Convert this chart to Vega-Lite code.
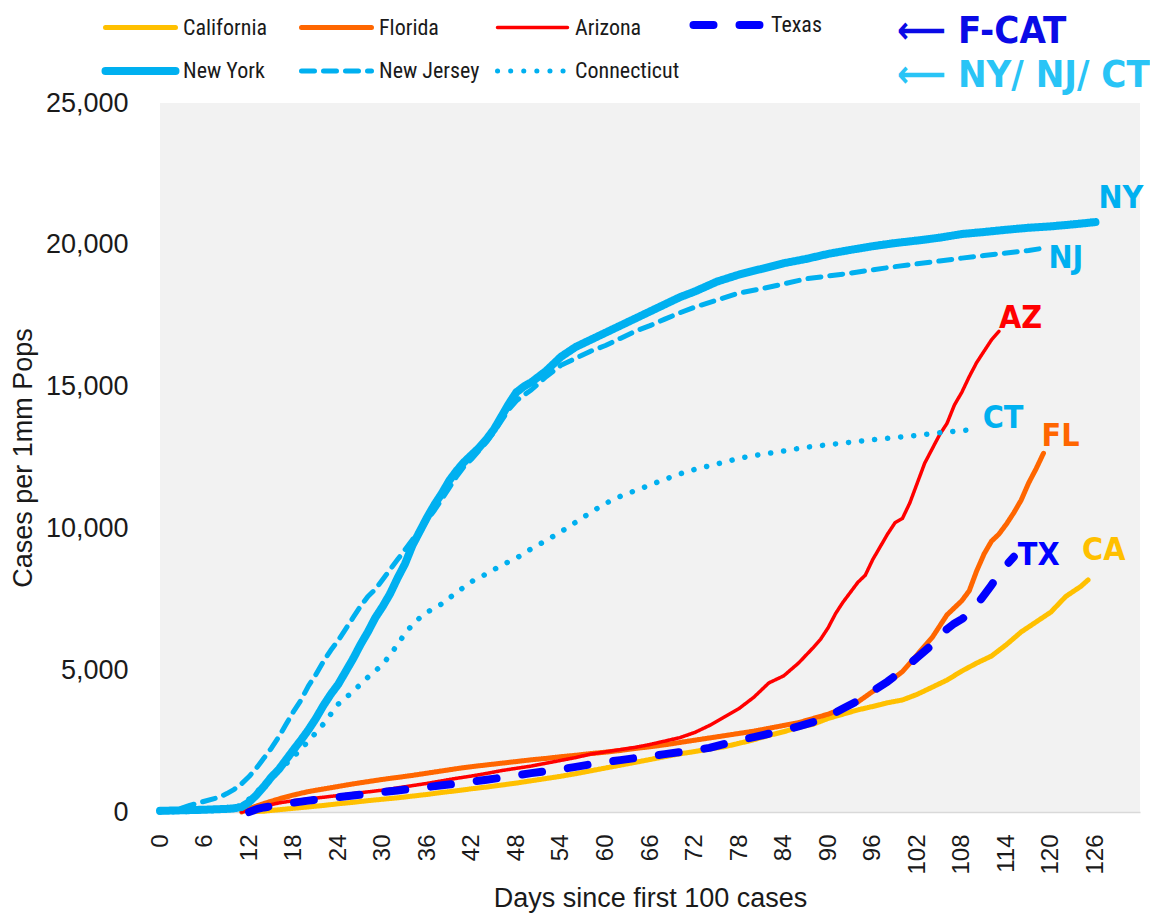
{
  "$schema": "https://vega.github.io/schema/vega-lite/v6.json",
  "autosize": "none",
  "width": 980,
  "height": 709,
  "padding": {"left": 160, "top": 103, "right": 10, "bottom": 103},
  "background": "white",
  "config": {
    "view": {"fill": "#F2F2F2", "stroke": null},
    "font": "Liberation Sans",
    "axis": {"labelColor": "#1a1a1a", "titleColor": "#1a1a1a", "titleFontWeight": "normal", "grid": false, "ticks": false}
  },
  "title": {
    "text": "⟵ F-CAT",
    "subtitle": "⟵ NY/ NJ/ CT",
    "orient": "top",
    "anchor": "start",
    "frame": "group",
    "dx": 737,
    "dy": 84,
    "offset": 0,
    "font": "DejaVu Sans Condensed, Liberation Sans",
    "fontSize": 38,
    "fontWeight": "bold",
    "color": "#0A0AE6",
    "subtitleFont": "DejaVu Sans Condensed, Liberation Sans",
    "subtitleFontSize": 38,
    "subtitleFontWeight": "bold",
    "subtitleColor": "#29C4F6",
    "subtitlePadding": 6
  },
  "data": {
    "values": [
      {"state": "California", "day": 12, "value": 0}, {"state": "California", "day": 14, "value": 30}, {"state": "California", "day": 16, "value": 80}, {"state": "California", "day": 18, "value": 130}, {"state": "California", "day": 20, "value": 180}, {"state": "California", "day": 22, "value": 230}, {"state": "California", "day": 24, "value": 290}, {"state": "California", "day": 26, "value": 340}, {"state": "California", "day": 28, "value": 400}, {"state": "California", "day": 30, "value": 450}, {"state": "California", "day": 32, "value": 500}, {"state": "California", "day": 34, "value": 560}, {"state": "California", "day": 36, "value": 620}, {"state": "California", "day": 38, "value": 690}, {"state": "California", "day": 40, "value": 750}, {"state": "California", "day": 42, "value": 820}, {"state": "California", "day": 44, "value": 880}, {"state": "California", "day": 46, "value": 950}, {"state": "California", "day": 48, "value": 1020}, {"state": "California", "day": 50, "value": 1100}, {"state": "California", "day": 52, "value": 1180}, {"state": "California", "day": 54, "value": 1260}, {"state": "California", "day": 56, "value": 1350}, {"state": "California", "day": 58, "value": 1450}, {"state": "California", "day": 60, "value": 1550}, {"state": "California", "day": 62, "value": 1650}, {"state": "California", "day": 64, "value": 1750}, {"state": "California", "day": 66, "value": 1850}, {"state": "California", "day": 68, "value": 1950}, {"state": "California", "day": 70, "value": 2050}, {"state": "California", "day": 72, "value": 2130}, {"state": "California", "day": 74, "value": 2220}, {"state": "California", "day": 76, "value": 2300}, {"state": "California", "day": 78, "value": 2420}, {"state": "California", "day": 80, "value": 2550}, {"state": "California", "day": 82, "value": 2700}, {"state": "California", "day": 84, "value": 2830}, {"state": "California", "day": 86, "value": 2980}, {"state": "California", "day": 88, "value": 3100}, {"state": "California", "day": 90, "value": 3300}, {"state": "California", "day": 92, "value": 3450}, {"state": "California", "day": 94, "value": 3600}, {"state": "California", "day": 96, "value": 3720}, {"state": "California", "day": 98, "value": 3850}, {"state": "California", "day": 100, "value": 3950}, {"state": "California", "day": 102, "value": 4150}, {"state": "California", "day": 104, "value": 4400}, {"state": "California", "day": 106, "value": 4650}, {"state": "California", "day": 108, "value": 4970}, {"state": "California", "day": 110, "value": 5250}, {"state": "California", "day": 112, "value": 5500}, {"state": "California", "day": 114, "value": 5900}, {"state": "California", "day": 116, "value": 6350}, {"state": "California", "day": 118, "value": 6700}, {"state": "California", "day": 120, "value": 7050}, {"state": "California", "day": 122, "value": 7600}, {"state": "California", "day": 124, "value": 7950}, {"state": "California", "day": 125, "value": 8180},

      {"state": "Florida", "day": 11, "value": 0}, {"state": "Florida", "day": 12, "value": 120}, {"state": "Florida", "day": 14, "value": 300}, {"state": "Florida", "day": 16, "value": 460}, {"state": "Florida", "day": 18, "value": 600}, {"state": "Florida", "day": 20, "value": 720}, {"state": "Florida", "day": 22, "value": 810}, {"state": "Florida", "day": 24, "value": 900}, {"state": "Florida", "day": 26, "value": 990}, {"state": "Florida", "day": 28, "value": 1070}, {"state": "Florida", "day": 30, "value": 1150}, {"state": "Florida", "day": 32, "value": 1220}, {"state": "Florida", "day": 34, "value": 1290}, {"state": "Florida", "day": 36, "value": 1370}, {"state": "Florida", "day": 38, "value": 1450}, {"state": "Florida", "day": 40, "value": 1530}, {"state": "Florida", "day": 42, "value": 1600}, {"state": "Florida", "day": 44, "value": 1660}, {"state": "Florida", "day": 46, "value": 1720}, {"state": "Florida", "day": 48, "value": 1780}, {"state": "Florida", "day": 50, "value": 1840}, {"state": "Florida", "day": 52, "value": 1890}, {"state": "Florida", "day": 54, "value": 1950}, {"state": "Florida", "day": 56, "value": 2000}, {"state": "Florida", "day": 58, "value": 2060}, {"state": "Florida", "day": 60, "value": 2110}, {"state": "Florida", "day": 62, "value": 2170}, {"state": "Florida", "day": 64, "value": 2240}, {"state": "Florida", "day": 66, "value": 2300}, {"state": "Florida", "day": 68, "value": 2370}, {"state": "Florida", "day": 70, "value": 2450}, {"state": "Florida", "day": 72, "value": 2530}, {"state": "Florida", "day": 74, "value": 2610}, {"state": "Florida", "day": 76, "value": 2690}, {"state": "Florida", "day": 78, "value": 2770}, {"state": "Florida", "day": 80, "value": 2850}, {"state": "Florida", "day": 82, "value": 2950}, {"state": "Florida", "day": 84, "value": 3050}, {"state": "Florida", "day": 86, "value": 3150}, {"state": "Florida", "day": 88, "value": 3300}, {"state": "Florida", "day": 90, "value": 3450}, {"state": "Florida", "day": 92, "value": 3650}, {"state": "Florida", "day": 94, "value": 3880}, {"state": "Florida", "day": 96, "value": 4250}, {"state": "Florida", "day": 98, "value": 4550}, {"state": "Florida", "day": 100, "value": 4950}, {"state": "Florida", "day": 102, "value": 5550}, {"state": "Florida", "day": 104, "value": 6150}, {"state": "Florida", "day": 106, "value": 6950}, {"state": "Florida", "day": 108, "value": 7450}, {"state": "Florida", "day": 109, "value": 7800}, {"state": "Florida", "day": 110, "value": 8500}, {"state": "Florida", "day": 111, "value": 9100}, {"state": "Florida", "day": 112, "value": 9550}, {"state": "Florida", "day": 113, "value": 9800}, {"state": "Florida", "day": 114, "value": 10150}, {"state": "Florida", "day": 115, "value": 10550}, {"state": "Florida", "day": 116, "value": 11000}, {"state": "Florida", "day": 117, "value": 11600}, {"state": "Florida", "day": 118, "value": 12100}, {"state": "Florida", "day": 119, "value": 12650},

      {"state": "Arizona", "day": 11, "value": 0}, {"state": "Arizona", "day": 12, "value": 60}, {"state": "Arizona", "day": 14, "value": 200}, {"state": "Arizona", "day": 16, "value": 320}, {"state": "Arizona", "day": 18, "value": 400}, {"state": "Arizona", "day": 20, "value": 460}, {"state": "Arizona", "day": 22, "value": 520}, {"state": "Arizona", "day": 24, "value": 580}, {"state": "Arizona", "day": 26, "value": 650}, {"state": "Arizona", "day": 28, "value": 710}, {"state": "Arizona", "day": 30, "value": 770}, {"state": "Arizona", "day": 32, "value": 850}, {"state": "Arizona", "day": 34, "value": 930}, {"state": "Arizona", "day": 36, "value": 1010}, {"state": "Arizona", "day": 38, "value": 1100}, {"state": "Arizona", "day": 40, "value": 1190}, {"state": "Arizona", "day": 42, "value": 1270}, {"state": "Arizona", "day": 44, "value": 1360}, {"state": "Arizona", "day": 46, "value": 1460}, {"state": "Arizona", "day": 48, "value": 1540}, {"state": "Arizona", "day": 50, "value": 1620}, {"state": "Arizona", "day": 52, "value": 1720}, {"state": "Arizona", "day": 54, "value": 1820}, {"state": "Arizona", "day": 56, "value": 1920}, {"state": "Arizona", "day": 58, "value": 2040}, {"state": "Arizona", "day": 60, "value": 2120}, {"state": "Arizona", "day": 62, "value": 2200}, {"state": "Arizona", "day": 64, "value": 2280}, {"state": "Arizona", "day": 66, "value": 2380}, {"state": "Arizona", "day": 68, "value": 2500}, {"state": "Arizona", "day": 70, "value": 2620}, {"state": "Arizona", "day": 72, "value": 2800}, {"state": "Arizona", "day": 74, "value": 3050}, {"state": "Arizona", "day": 76, "value": 3350}, {"state": "Arizona", "day": 78, "value": 3650}, {"state": "Arizona", "day": 80, "value": 4050}, {"state": "Arizona", "day": 82, "value": 4550}, {"state": "Arizona", "day": 84, "value": 4800}, {"state": "Arizona", "day": 86, "value": 5250}, {"state": "Arizona", "day": 88, "value": 5800}, {"state": "Arizona", "day": 89, "value": 6100}, {"state": "Arizona", "day": 90, "value": 6500}, {"state": "Arizona", "day": 91, "value": 7000}, {"state": "Arizona", "day": 92, "value": 7400}, {"state": "Arizona", "day": 94, "value": 8100}, {"state": "Arizona", "day": 95, "value": 8350}, {"state": "Arizona", "day": 96, "value": 8900}, {"state": "Arizona", "day": 97, "value": 9350}, {"state": "Arizona", "day": 98, "value": 9800}, {"state": "Arizona", "day": 99, "value": 10200}, {"state": "Arizona", "day": 100, "value": 10350}, {"state": "Arizona", "day": 101, "value": 10900}, {"state": "Arizona", "day": 102, "value": 11600}, {"state": "Arizona", "day": 103, "value": 12300}, {"state": "Arizona", "day": 104, "value": 12800}, {"state": "Arizona", "day": 105, "value": 13300}, {"state": "Arizona", "day": 106, "value": 13700}, {"state": "Arizona", "day": 107, "value": 14350}, {"state": "Arizona", "day": 108, "value": 14800}, {"state": "Arizona", "day": 109, "value": 15350}, {"state": "Arizona", "day": 110, "value": 15850}, {"state": "Arizona", "day": 111, "value": 16250}, {"state": "Arizona", "day": 112, "value": 16650}, {"state": "Arizona", "day": 113, "value": 16950},

      {"state": "Texas", "day": 12, "value": 0}, {"state": "Texas", "day": 13, "value": 100}, {"state": "Texas", "day": 14, "value": 160}, {"state": "Texas", "day": 16, "value": 250}, {"state": "Texas", "day": 18, "value": 330}, {"state": "Texas", "day": 20, "value": 400}, {"state": "Texas", "day": 22, "value": 460}, {"state": "Texas", "day": 24, "value": 520}, {"state": "Texas", "day": 26, "value": 580}, {"state": "Texas", "day": 28, "value": 640}, {"state": "Texas", "day": 30, "value": 700}, {"state": "Texas", "day": 32, "value": 760}, {"state": "Texas", "day": 34, "value": 820}, {"state": "Texas", "day": 36, "value": 880}, {"state": "Texas", "day": 38, "value": 940}, {"state": "Texas", "day": 40, "value": 1000}, {"state": "Texas", "day": 42, "value": 1070}, {"state": "Texas", "day": 44, "value": 1140}, {"state": "Texas", "day": 46, "value": 1210}, {"state": "Texas", "day": 48, "value": 1290}, {"state": "Texas", "day": 50, "value": 1370}, {"state": "Texas", "day": 52, "value": 1440}, {"state": "Texas", "day": 54, "value": 1510}, {"state": "Texas", "day": 56, "value": 1590}, {"state": "Texas", "day": 58, "value": 1680}, {"state": "Texas", "day": 60, "value": 1760}, {"state": "Texas", "day": 62, "value": 1830}, {"state": "Texas", "day": 64, "value": 1900}, {"state": "Texas", "day": 66, "value": 1970}, {"state": "Texas", "day": 68, "value": 2040}, {"state": "Texas", "day": 70, "value": 2110}, {"state": "Texas", "day": 72, "value": 2180}, {"state": "Texas", "day": 74, "value": 2260}, {"state": "Texas", "day": 76, "value": 2400}, {"state": "Texas", "day": 78, "value": 2530}, {"state": "Texas", "day": 80, "value": 2640}, {"state": "Texas", "day": 82, "value": 2760}, {"state": "Texas", "day": 84, "value": 2880}, {"state": "Texas", "day": 86, "value": 3020}, {"state": "Texas", "day": 88, "value": 3170}, {"state": "Texas", "day": 90, "value": 3370}, {"state": "Texas", "day": 92, "value": 3650}, {"state": "Texas", "day": 94, "value": 3920}, {"state": "Texas", "day": 96, "value": 4260}, {"state": "Texas", "day": 98, "value": 4600}, {"state": "Texas", "day": 100, "value": 5000}, {"state": "Texas", "day": 102, "value": 5450}, {"state": "Texas", "day": 104, "value": 5900}, {"state": "Texas", "day": 106, "value": 6450}, {"state": "Texas", "day": 107, "value": 6650}, {"state": "Texas", "day": 108, "value": 6800}, {"state": "Texas", "day": 109, "value": 7000}, {"state": "Texas", "day": 110, "value": 7300}, {"state": "Texas", "day": 111, "value": 7650}, {"state": "Texas", "day": 112, "value": 8000}, {"state": "Texas", "day": 113, "value": 8400}, {"state": "Texas", "day": 115, "value": 9000},

      {"state": "New York", "day": 0, "value": 40}, {"state": "New York", "day": 3, "value": 60}, {"state": "New York", "day": 6, "value": 80}, {"state": "New York", "day": 9, "value": 110}, {"state": "New York", "day": 10, "value": 130}, {"state": "New York", "day": 11, "value": 180}, {"state": "New York", "day": 12, "value": 350}, {"state": "New York", "day": 13, "value": 600}, {"state": "New York", "day": 14, "value": 900}, {"state": "New York", "day": 15, "value": 1230}, {"state": "New York", "day": 16, "value": 1500}, {"state": "New York", "day": 17, "value": 1850}, {"state": "New York", "day": 18, "value": 2200}, {"state": "New York", "day": 19, "value": 2540}, {"state": "New York", "day": 20, "value": 2900}, {"state": "New York", "day": 21, "value": 3300}, {"state": "New York", "day": 22, "value": 3750}, {"state": "New York", "day": 23, "value": 4150}, {"state": "New York", "day": 24, "value": 4500}, {"state": "New York", "day": 25, "value": 4950}, {"state": "New York", "day": 26, "value": 5400}, {"state": "New York", "day": 27, "value": 5900}, {"state": "New York", "day": 28, "value": 6350}, {"state": "New York", "day": 29, "value": 6850}, {"state": "New York", "day": 30, "value": 7250}, {"state": "New York", "day": 31, "value": 7700}, {"state": "New York", "day": 32, "value": 8250}, {"state": "New York", "day": 33, "value": 8750}, {"state": "New York", "day": 34, "value": 9400}, {"state": "New York", "day": 35, "value": 9900}, {"state": "New York", "day": 36, "value": 10400}, {"state": "New York", "day": 37, "value": 10850}, {"state": "New York", "day": 38, "value": 11250}, {"state": "New York", "day": 39, "value": 11700}, {"state": "New York", "day": 40, "value": 12050}, {"state": "New York", "day": 41, "value": 12350}, {"state": "New York", "day": 42, "value": 12600}, {"state": "New York", "day": 43, "value": 12850}, {"state": "New York", "day": 44, "value": 13150}, {"state": "New York", "day": 45, "value": 13500}, {"state": "New York", "day": 46, "value": 13950}, {"state": "New York", "day": 47, "value": 14400}, {"state": "New York", "day": 48, "value": 14800}, {"state": "New York", "day": 49, "value": 15000}, {"state": "New York", "day": 50, "value": 15150}, {"state": "New York", "day": 52, "value": 15550}, {"state": "New York", "day": 54, "value": 16050}, {"state": "New York", "day": 56, "value": 16400}, {"state": "New York", "day": 58, "value": 16650}, {"state": "New York", "day": 60, "value": 16900}, {"state": "New York", "day": 62, "value": 17150}, {"state": "New York", "day": 64, "value": 17400}, {"state": "New York", "day": 66, "value": 17650}, {"state": "New York", "day": 68, "value": 17900}, {"state": "New York", "day": 70, "value": 18150}, {"state": "New York", "day": 72, "value": 18350}, {"state": "New York", "day": 75, "value": 18700}, {"state": "New York", "day": 78, "value": 18950}, {"state": "New York", "day": 81, "value": 19150}, {"state": "New York", "day": 84, "value": 19350}, {"state": "New York", "day": 87, "value": 19500}, {"state": "New York", "day": 90, "value": 19680}, {"state": "New York", "day": 93, "value": 19820}, {"state": "New York", "day": 96, "value": 19950}, {"state": "New York", "day": 99, "value": 20060}, {"state": "New York", "day": 102, "value": 20150}, {"state": "New York", "day": 105, "value": 20250}, {"state": "New York", "day": 108, "value": 20380}, {"state": "New York", "day": 111, "value": 20450}, {"state": "New York", "day": 114, "value": 20530}, {"state": "New York", "day": 117, "value": 20600}, {"state": "New York", "day": 120, "value": 20650}, {"state": "New York", "day": 123, "value": 20720}, {"state": "New York", "day": 126, "value": 20800},

      {"state": "New Jersey", "day": 0, "value": 0}, {"state": "New Jersey", "day": 2, "value": 60}, {"state": "New Jersey", "day": 4, "value": 230}, {"state": "New Jersey", "day": 6, "value": 380}, {"state": "New Jersey", "day": 8, "value": 520}, {"state": "New Jersey", "day": 9, "value": 650}, {"state": "New Jersey", "day": 10, "value": 800}, {"state": "New Jersey", "day": 11, "value": 1000}, {"state": "New Jersey", "day": 12, "value": 1250}, {"state": "New Jersey", "day": 13, "value": 1550}, {"state": "New Jersey", "day": 14, "value": 1900}, {"state": "New Jersey", "day": 15, "value": 2250}, {"state": "New Jersey", "day": 16, "value": 2650}, {"state": "New Jersey", "day": 17, "value": 3100}, {"state": "New Jersey", "day": 18, "value": 3550}, {"state": "New Jersey", "day": 19, "value": 3950}, {"state": "New Jersey", "day": 20, "value": 4450}, {"state": "New Jersey", "day": 21, "value": 4850}, {"state": "New Jersey", "day": 22, "value": 5300}, {"state": "New Jersey", "day": 23, "value": 5700}, {"state": "New Jersey", "day": 24, "value": 6050}, {"state": "New Jersey", "day": 25, "value": 6450}, {"state": "New Jersey", "day": 26, "value": 6850}, {"state": "New Jersey", "day": 27, "value": 7250}, {"state": "New Jersey", "day": 28, "value": 7600}, {"state": "New Jersey", "day": 29, "value": 7850}, {"state": "New Jersey", "day": 30, "value": 8200}, {"state": "New Jersey", "day": 31, "value": 8550}, {"state": "New Jersey", "day": 32, "value": 8900}, {"state": "New Jersey", "day": 33, "value": 9250}, {"state": "New Jersey", "day": 34, "value": 9600}, {"state": "New Jersey", "day": 35, "value": 9950}, {"state": "New Jersey", "day": 36, "value": 10300}, {"state": "New Jersey", "day": 37, "value": 10650}, {"state": "New Jersey", "day": 38, "value": 11050}, {"state": "New Jersey", "day": 39, "value": 11450}, {"state": "New Jersey", "day": 40, "value": 11850}, {"state": "New Jersey", "day": 41, "value": 12200}, {"state": "New Jersey", "day": 42, "value": 12450}, {"state": "New Jersey", "day": 43, "value": 12750}, {"state": "New Jersey", "day": 44, "value": 13050}, {"state": "New Jersey", "day": 45, "value": 13400}, {"state": "New Jersey", "day": 46, "value": 13800}, {"state": "New Jersey", "day": 47, "value": 14200}, {"state": "New Jersey", "day": 48, "value": 14500}, {"state": "New Jersey", "day": 49, "value": 14700}, {"state": "New Jersey", "day": 50, "value": 14880}, {"state": "New Jersey", "day": 52, "value": 15350}, {"state": "New Jersey", "day": 54, "value": 15750}, {"state": "New Jersey", "day": 56, "value": 16000}, {"state": "New Jersey", "day": 58, "value": 16250}, {"state": "New Jersey", "day": 60, "value": 16450}, {"state": "New Jersey", "day": 62, "value": 16700}, {"state": "New Jersey", "day": 64, "value": 16950}, {"state": "New Jersey", "day": 66, "value": 17150}, {"state": "New Jersey", "day": 68, "value": 17380}, {"state": "New Jersey", "day": 70, "value": 17600}, {"state": "New Jersey", "day": 72, "value": 17800}, {"state": "New Jersey", "day": 75, "value": 18050}, {"state": "New Jersey", "day": 78, "value": 18300}, {"state": "New Jersey", "day": 81, "value": 18450}, {"state": "New Jersey", "day": 84, "value": 18620}, {"state": "New Jersey", "day": 87, "value": 18800}, {"state": "New Jersey", "day": 90, "value": 18900}, {"state": "New Jersey", "day": 93, "value": 19000}, {"state": "New Jersey", "day": 96, "value": 19120}, {"state": "New Jersey", "day": 99, "value": 19230}, {"state": "New Jersey", "day": 102, "value": 19330}, {"state": "New Jersey", "day": 105, "value": 19430}, {"state": "New Jersey", "day": 108, "value": 19530}, {"state": "New Jersey", "day": 111, "value": 19620}, {"state": "New Jersey", "day": 114, "value": 19710}, {"state": "New Jersey", "day": 117, "value": 19800}, {"state": "New Jersey", "day": 119, "value": 19880},

      {"state": "Connecticut", "day": 0, "value": 0}, {"state": "Connecticut", "day": 4, "value": 20}, {"state": "Connecticut", "day": 8, "value": 60}, {"state": "Connecticut", "day": 10, "value": 150}, {"state": "Connecticut", "day": 11, "value": 250}, {"state": "Connecticut", "day": 12, "value": 450}, {"state": "Connecticut", "day": 13, "value": 700}, {"state": "Connecticut", "day": 14, "value": 950}, {"state": "Connecticut", "day": 15, "value": 1200}, {"state": "Connecticut", "day": 16, "value": 1450}, {"state": "Connecticut", "day": 18, "value": 1950}, {"state": "Connecticut", "day": 20, "value": 2500}, {"state": "Connecticut", "day": 22, "value": 3100}, {"state": "Connecticut", "day": 24, "value": 3800}, {"state": "Connecticut", "day": 26, "value": 4250}, {"state": "Connecticut", "day": 28, "value": 4750}, {"state": "Connecticut", "day": 30, "value": 5200}, {"state": "Connecticut", "day": 31, "value": 5550}, {"state": "Connecticut", "day": 32, "value": 5900}, {"state": "Connecticut", "day": 33, "value": 6300}, {"state": "Connecticut", "day": 34, "value": 6600}, {"state": "Connecticut", "day": 35, "value": 6850}, {"state": "Connecticut", "day": 36, "value": 7050}, {"state": "Connecticut", "day": 38, "value": 7350}, {"state": "Connecticut", "day": 40, "value": 7750}, {"state": "Connecticut", "day": 42, "value": 8130}, {"state": "Connecticut", "day": 44, "value": 8400}, {"state": "Connecticut", "day": 46, "value": 8700}, {"state": "Connecticut", "day": 48, "value": 8950}, {"state": "Connecticut", "day": 50, "value": 9280}, {"state": "Connecticut", "day": 52, "value": 9570}, {"state": "Connecticut", "day": 54, "value": 9880}, {"state": "Connecticut", "day": 56, "value": 10220}, {"state": "Connecticut", "day": 58, "value": 10560}, {"state": "Connecticut", "day": 60, "value": 10880}, {"state": "Connecticut", "day": 62, "value": 11130}, {"state": "Connecticut", "day": 64, "value": 11330}, {"state": "Connecticut", "day": 66, "value": 11530}, {"state": "Connecticut", "day": 68, "value": 11730}, {"state": "Connecticut", "day": 70, "value": 11920}, {"state": "Connecticut", "day": 72, "value": 12080}, {"state": "Connecticut", "day": 75, "value": 12270}, {"state": "Connecticut", "day": 78, "value": 12470}, {"state": "Connecticut", "day": 81, "value": 12610}, {"state": "Connecticut", "day": 84, "value": 12730}, {"state": "Connecticut", "day": 87, "value": 12860}, {"state": "Connecticut", "day": 90, "value": 12950}, {"state": "Connecticut", "day": 93, "value": 13040}, {"state": "Connecticut", "day": 96, "value": 13130}, {"state": "Connecticut", "day": 99, "value": 13200}, {"state": "Connecticut", "day": 102, "value": 13280}, {"state": "Connecticut", "day": 105, "value": 13370}, {"state": "Connecticut", "day": 108, "value": 13450}, {"state": "Connecticut", "day": 110, "value": 13500}
    ]
  },
  "encoding": {
    "x": {
      "field": "day", "type": "quantitative",
      "scale": {"domain": [0, 132], "nice": false, "zero": false},
      "axis": {
        "values": [0, 6, 12, 18, 24, 30, 36, 42, 48, 54, 60, 66, 72, 78, 84, 90, 96, 102, 108, 114, 120, 126],
        "labelAngle": -90, "labelFontSize": 24, "labelPadding": 22,
        "domainColor": "#D9D9D9", "domainWidth": 1.5,
        "title": "Days since first 100 cases", "titleFontSize": 27, "titlePadding": 11
      }
    },
    "y": {
      "field": "value", "type": "quantitative",
      "scale": {"domain": [0, 25000], "nice": false},
      "axis": {
        "values": [0, 5000, 10000, 15000, 20000, 25000], "format": ",.0f",
        "labelFontSize": 27, "labelPadding": 32, "domain": false,
        "title": "Cases per 1mm Pops", "titleFontSize": 27, "titlePadding": 8
      }
    }
  },
  "layer": [
    {
      "encoding": {
        "detail": {"field": "state"},
        "color": {
          "field": "state", "type": "nominal",
          "scale": {
            "domain": ["California", "Florida", "Arizona", "Texas", "New York", "New Jersey", "Connecticut"],
            "range": ["#FFC000", "#FF6600", "#FF0000", "#0000FF", "#00B0F0", "#00B0F0", "#00B0F0"]
          },
          "legend": {
            "title": null, "orient": "none", "legendX": -57, "legendY": -92,
            "direction": "horizontal", "columns": 4, "gridAlign": "all",
            "symbolType": "stroke", "symbolSize": 4900, "labelOffset": 5,
            "labelFont": "Roboto Condensed, Liberation Sans", "labelFontSize": 22, "labelColor": "#1a1a1a",
            "columnPadding": -3, "rowPadding": 14,
            "encode": {
              "symbols": {
                "update": {
                  "y": {"value": 14},
                  "strokeCap": {"value": "round"},
                  "strokeWidth": {"signal": "((datum.value === 'Texas' || datum.value === 'New York') ? 8 : ((datum.value === 'Arizona') ? 3.5 : 5))"}
                }
              },
              "labels": {
                "update": {"y": {"value": 14}}
              }
            }
          }
        },
        "strokeDash": {
          "field": "state", "type": "nominal",
          "scale": {
            "domain": ["California", "Florida", "Arizona", "Texas", "New York", "New Jersey", "Connecticut"],
            "range": [[1, 0], [1, 0], [1, 0], [20, 26], [1, 0], [13, 9], [0.1, 13]]
          }
        }
      },
      "layer": [
        {"transform": [{"filter": {"field": "state", "oneOf": ["California", "Florida"]}}], "mark": {"type": "line", "strokeWidth": 5, "strokeCap": "round", "strokeJoin": "round", "clip": false}},
        {"transform": [{"filter": {"field": "state", "equal": "Arizona"}}], "mark": {"type": "line", "strokeWidth": 3.5, "strokeCap": "round", "strokeJoin": "round", "clip": false}},
        {"transform": [{"filter": {"field": "state", "equal": "Texas"}}], "mark": {"type": "line", "strokeWidth": 8, "strokeCap": "round", "strokeJoin": "round", "clip": false}},
        {"transform": [{"filter": {"field": "state", "equal": "New York"}}], "mark": {"type": "line", "strokeWidth": 8, "strokeCap": "round", "strokeJoin": "round", "clip": false}},
        {"transform": [{"filter": {"field": "state", "equal": "New Jersey"}}], "mark": {"type": "line", "strokeWidth": 5, "strokeCap": "round", "strokeJoin": "round", "clip": false}},
        {"transform": [{"filter": {"field": "state", "equal": "Connecticut"}}], "mark": {"type": "line", "strokeWidth": 5.5, "strokeCap": "round", "strokeJoin": "round", "clip": false}}
      ]
    },
    {
      "transform": [
        {"joinaggregate": [{"op": "max", "field": "day", "as": "lastDay"}], "groupby": ["state"]},
        {"filter": "datum.day === datum.lastDay"}
      ],
      "layer": [
        {"transform": [{"filter": "datum.state === 'New York'"}], "mark": {"type": "text", "text": "NY", "align": "left", "baseline": "middle", "dx": 3, "dy": -24, "font": "DejaVu Sans Condensed, Liberation Sans", "fontWeight": "bold", "fontSize": 32, "color": "#00B0F0"}},
        {"transform": [{"filter": "datum.state === 'New Jersey'"}], "mark": {"type": "text", "text": "NJ", "align": "left", "baseline": "middle", "dx": 5, "dy": 10, "font": "DejaVu Sans Condensed, Liberation Sans", "fontWeight": "bold", "fontSize": 32, "color": "#00B0F0"}},
        {"transform": [{"filter": "datum.state === 'Arizona'"}], "mark": {"type": "text", "text": "AZ", "align": "left", "baseline": "middle", "dx": 0, "dy": -13, "font": "DejaVu Sans Condensed, Liberation Sans", "fontWeight": "bold", "fontSize": 32, "color": "#FF0000"}},
        {"transform": [{"filter": "datum.state === 'Connecticut'"}], "mark": {"type": "text", "text": "CT", "align": "left", "baseline": "middle", "dx": 6, "dy": -11, "font": "DejaVu Sans Condensed, Liberation Sans", "fontWeight": "bold", "fontSize": 32, "color": "#00B0F0"}},
        {"transform": [{"filter": "datum.state === 'Florida'"}], "mark": {"type": "text", "text": "FL", "align": "left", "baseline": "middle", "dx": -2, "dy": -17, "font": "DejaVu Sans Condensed, Liberation Sans", "fontWeight": "bold", "fontSize": 32, "color": "#FF6600"}},
        {"transform": [{"filter": "datum.state === 'Texas'"}], "mark": {"type": "text", "text": "TX", "align": "left", "baseline": "middle", "dx": 4, "dy": -2, "font": "DejaVu Sans Condensed, Liberation Sans", "fontWeight": "bold", "fontSize": 32, "color": "#0000FF"}},
        {"transform": [{"filter": "datum.state === 'California'"}], "mark": {"type": "text", "text": "CA", "align": "left", "baseline": "middle", "dx": -6, "dy": -30, "font": "DejaVu Sans Condensed, Liberation Sans", "fontWeight": "bold", "fontSize": 32, "color": "#FFC000"}}
      ]
    }
  ]
}
